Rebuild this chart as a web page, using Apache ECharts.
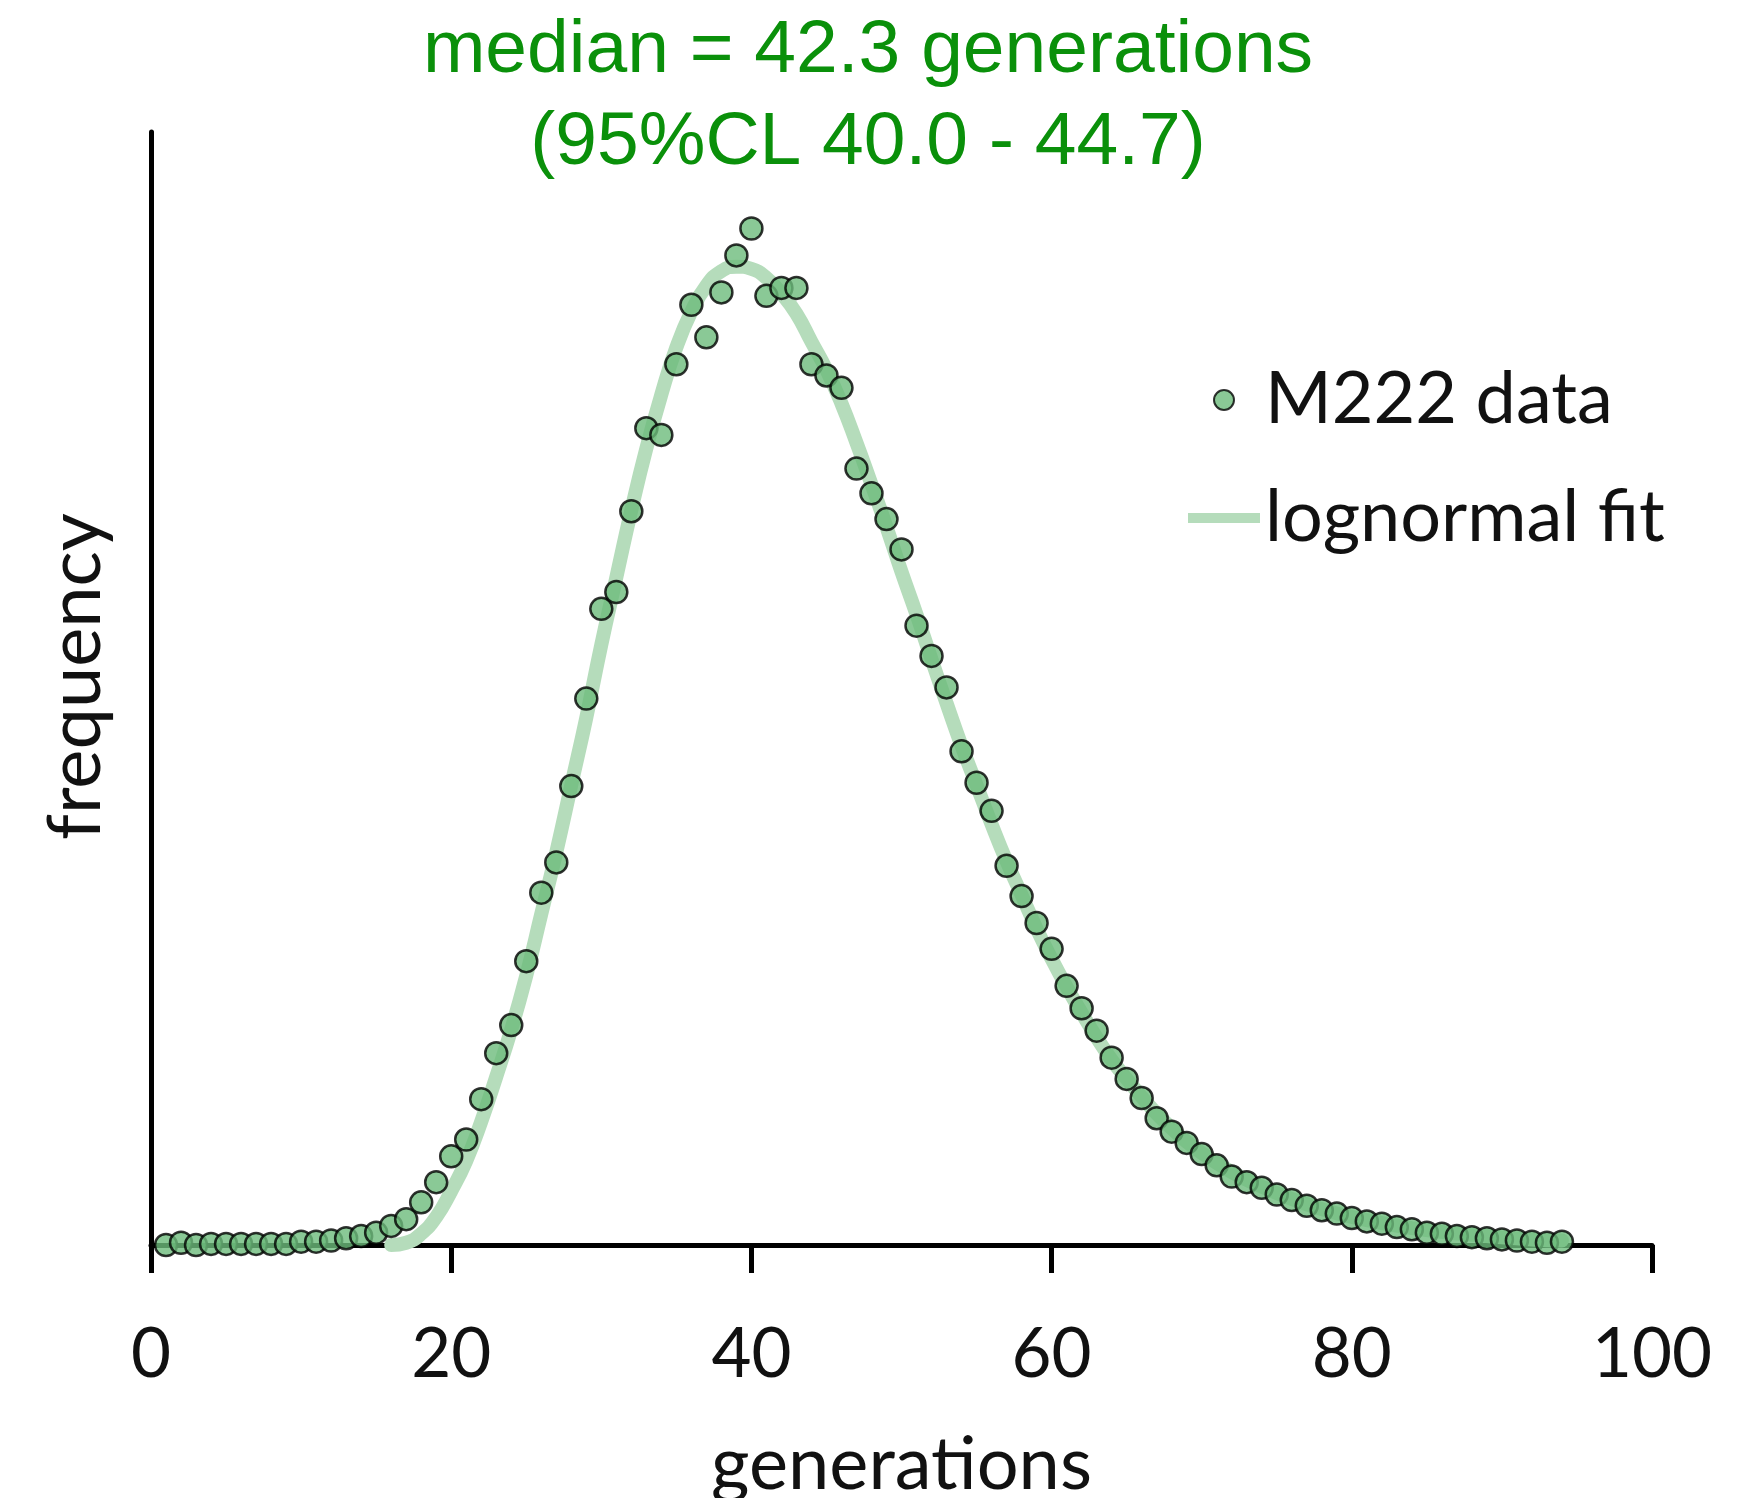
<!DOCTYPE html>
<html>
<head>
<meta charset="utf-8">
<title>M222 generations</title>
<script src="https://cdn.jsdelivr.net/npm/echarts@6/dist/echarts.min.js"></script>
<style>
  html, body { margin: 0; padding: 0; background: #fff; }
  #chart { width: 1758px; height: 1498px; }
</style>
</head>
<body>
<div id="chart"></div>
<script>
  var dataGen = [1, 2, 3, 4, 5, 6, 7, 8, 9, 10, 11, 12, 13, 14, 15, 16, 17, 18, 19, 20,
    21, 22, 23, 24, 25, 26, 27, 28, 29, 30, 31, 32, 33, 34, 35, 36, 37, 38, 39, 40,
    41, 42, 43, 44, 45, 46, 47, 48, 49, 50, 51, 52, 53, 54, 55, 56, 57, 58, 59, 60,
    61, 62, 63, 64, 65, 66, 67, 68, 69, 70, 71, 72, 73, 74, 75, 76, 77, 78, 79, 80,
    81, 82, 83, 84, 85, 86, 87, 88, 89, 90, 91, 92, 93, 94];
  var dataFreq = [0, 2, 0, 1, 1, 1, 1, 1, 1, 3, 3, 4, 6, 8, 11, 17, 23, 38, 56, 79,
    94, 130, 171, 196, 253, 314, 341, 409, 487, 567, 582, 654, 728, 722, 785, 838, 809, 849, 882, 906,
    846, 853, 853, 785, 775, 764, 692, 670, 647, 620, 552, 525, 497, 440, 412, 387, 338, 311, 287, 264,
    231, 211, 191, 167, 148, 131, 113, 101, 91, 81, 71, 61, 56, 51, 45, 40, 35, 31, 28, 24,
    21, 19, 16, 14, 11, 10, 8, 7, 6, 5, 4, 3, 2, 3];

  // lognormal fit curve
  var fitGen = [16, 17, 18, 19, 20, 21, 22, 23, 24, 25, 26, 27, 28, 29, 30, 31, 32, 33, 34, 35,
    36, 37, 38, 39, 40, 41, 42, 43, 44, 45, 46, 47, 48, 49, 50, 51, 52, 53, 54, 55,
    56, 57, 58, 59, 60, 61, 62, 63, 64, 65, 66, 67, 68, 69, 70, 72, 74, 76, 78, 80,
    84, 88, 92, 94];
  var fitFreq = [0, 2, 10, 25, 48, 75, 110, 150, 192, 240, 295, 350, 410, 470, 535, 595, 655, 710, 758, 800,
    832, 855, 868, 872, 870, 862, 848, 830, 805, 780, 750, 715, 678, 640, 600, 562, 522, 483, 445, 410,
    375, 342, 312, 282, 255, 230, 207, 185, 165, 148, 132, 117, 104, 92, 82, 65, 52, 41, 32, 25,
    15, 9, 5, 4];

  var xTicks = [0, 20, 40, 60, 80, 100];

  var titleLines = ['median = 42.3 generations', '(95%CL 40.0 - 44.7)'];

  var pointsData = dataGen.map(function (g, i) { return [g, dataFreq[i]]; });
  var fitData = fitGen.map(function (g, i) { return [g, fitFreq[i]]; });

  var chart = echarts.init(document.getElementById('chart'));

  var option = {
    backgroundColor: '#fff',
    animation: false,
    graphic: [{
      type: 'text',
      x: 868,
      y: 5,
      style: {
        text: titleLines.join('\n'),
        fill: '#0a900a',
        font: '75px "Liberation Sans", Arial, sans-serif',
        lineHeight: 92,
        align: 'center',
        verticalAlign: 'top'
      }
    }],
    grid: {
      left: 151,
      right: 106,
      top: 132,
      bottom: 253,
      outerBoundsMode: 'none'
    },
    legend: {
      orient: 'vertical',
      left: 1178,
      top: 355,
      itemWidth: 72,
      itemHeight: 20,
      itemGap: 38,
      textStyle: {
        fontFamily: 'Lato',
        fontSize: 72,
        lineHeight: 80,
        color: '#111'
      },
      data: [
        { name: 'M222 data', icon: 'circle' },
        {
          name: 'lognormal fit',
          lineStyle: { width: 10, cap: 'butt' },
          itemStyle: { opacity: 0 }
        }
      ]
    },
    xAxis: {
      type: 'value',
      min: 0,
      max: 100,
      interval: 20,
      name: 'generations',
      nameLocation: 'middle',
      nameGap: 183,
      nameTextStyle: { fontFamily: 'Lato', fontSize: 74, color: '#111' },
      axisLine: { lineStyle: { color: '#000', width: 5 } },
      axisTick: { show: true, length: 28, lineStyle: { color: '#000', width: 5 } },
      axisLabel: {
        margin: 75,
        fontFamily: 'Lato',
        fontSize: 69,
        color: '#111',
        formatter: function (v) { return xTicks.indexOf(v) >= 0 ? String(v) : ''; }
      },
      splitLine: { show: false }
    },
    yAxis: {
      type: 'value',
      min: 0,
      max: 992,
      name: 'frequency',
      nameLocation: 'middle',
      nameGap: 38,
      nameRotate: 90,
      nameTextStyle: { fontFamily: 'Lato', fontSize: 74, color: '#111', padding: [0, 0, 0, 24] },
      axisLine: { show: true, lineStyle: { color: '#000', width: 5 } },
      axisTick: { show: false },
      axisLabel: { show: false },
      splitLine: { show: false }
    },
    series: [
      {
        name: 'lognormal fit',
        type: 'line',
        data: fitData,
        smooth: true,
        symbol: 'none',
        z: 2,
        lineStyle: { color: '#b5dcbb', width: 14, cap: 'round' },
        itemStyle: { color: '#b5dcbb' }
      },
      {
        name: 'M222 data',
        type: 'scatter',
        data: pointsData,
        symbol: 'circle',
        symbolSize: 22,
        z: 3,
        itemStyle: {
          color: '#6dbb7c',
          borderColor: '#000',
          borderWidth: 2.5
        }
      }
    ]
  };

  chart.setOption(option);
  window.onresize = function () {
    chart.resize();
  };
</script>
</body>
</html>
